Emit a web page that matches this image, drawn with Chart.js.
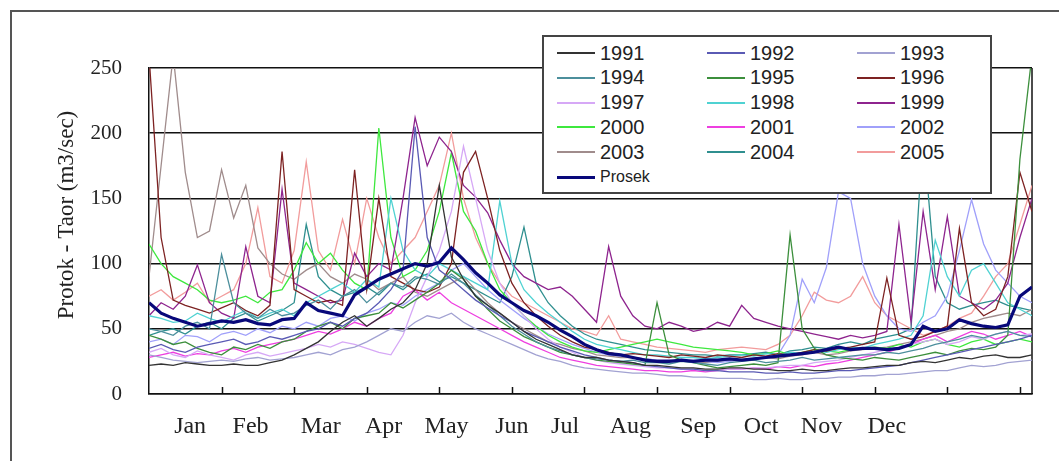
<!DOCTYPE html>
<html><head><meta charset="utf-8">
<script src="https://cdn.jsdelivr.net/npm/chart.js@4.4.1/dist/chart.umd.min.js"></script>
<style>
html,body{margin:0;padding:0;background:#fff;overflow:hidden;}
#wrap{position:relative;width:1059px;height:461px;overflow:hidden;}
#frame{position:absolute;left:10px;top:10px;width:1100px;height:520px;border:2px solid #555;box-sizing:border-box;}
#c{position:absolute;left:0;top:0;}
#legend{position:absolute;left:542px;top:35px;width:450px;height:159px;box-sizing:border-box;border:2px solid #444;background:#fff;}
.item{position:absolute;height:24px;display:flex;align-items:center;font-family:"Liberation Sans",Arial,sans-serif;font-size:20px;color:#222;white-space:nowrap;}
.sw{width:38px;margin-right:5px;}
</style>
</head><body>
<div id="wrap">
<div id="frame"></div>
<canvas id="c" width="1059" height="461"></canvas>
<div id="legend"></div>
</div>
<script>
// day of year (x values)
const days = [0,5,10,15,20,25,30,35,40,45,50,55,60,65,70,75,80,85,90,95,100,105,110,115,120,125,130,135,140,145,150,155,160,165,170,175,180,185,190,195,200,205,210,215,220,225,230,235,240,245,250,255,260,265,270,275,280,285,290,295,300,305,310,315,320,325,330,335,340,345,350,355,360,365];
const months = ["Jan","Feb","Mar","Apr","May","Jun","Jul","Aug","Sep","Oct","Nov","Dec"];
const monthPos = [17,42,71,97,123,150,172,199,227,253,278,305];
const tickDays = [30,60,90,120,150,180,210,240,270,300,330,360];
const yTicks = [0,50,100,150,200,250];

const y1991 = [22,23,22,24,23,22,22,23,22,22,24,26,30,
 35,40,48,55,60,52,58,65,70,80,100,160,
 105,88,75,68,62,55,48,42,38,34,30,28,
 28,26,25,24,22,22,21,20,20,19,19,20,
 20,19,19,18,18,19,18,18,19,20,20,21,
 22,22,24,25,24,26,28,27,29,30,28,28,30];
const y1992 = [35,38,34,32,36,38,40,42,38,40,44,42,45,
 48,50,55,52,58,62,70,80,95,205,120,95,
 88,80,72,66,60,55,48,44,40,36,33,30,
 28,26,25,24,22,21,20,19,19,18,18,17,
 17,17,16,16,17,16,16,17,18,18,19,20,
 21,22,24,26,28,30,32,34,36,38,40,42,45];
const y1993 = [30,28,26,25,24,25,26,25,27,28,26,27,28,
 30,32,30,34,36,40,45,50,48,55,60,58,
 62,55,50,46,42,38,34,30,27,25,22,20,
 19,18,17,16,16,15,14,14,13,13,12,12,
 12,11,11,12,11,11,12,12,13,13,14,14,
 15,15,16,17,18,18,20,22,21,22,24,25,26];
const y1994 = [50,48,45,52,55,50,107,70,62,58,65,60,62,
 68,72,65,75,80,70,78,85,82,90,88,84,
 92,85,76,68,60,52,46,40,36,33,30,28,
 27,26,25,26,24,24,23,25,24,23,22,24,
 25,26,24,25,26,28,26,27,28,29,30,30,
 32,31,33,35,38,40,42,45,43,46,48,45,44];
const y1995 = [45,42,38,40,35,32,30,36,34,38,35,40,42,
 48,52,55,50,58,60,62,70,66,72,78,85,
 95,88,75,65,56,50,44,40,36,32,30,28,
 26,25,24,23,22,70,30,26,24,22,20,21,
 22,23,22,24,122,50,35,30,28,27,26,28,
 27,26,28,30,32,30,33,35,34,36,45,180,260];
const y1996 = [260,120,72,68,65,62,66,70,64,60,68,186,80,
 75,70,72,68,172,80,150,90,85,80,78,82,
 100,170,186,150,110,85,70,60,52,45,40,36,
 34,32,30,31,30,29,28,30,29,28,30,29,
 28,30,29,31,30,32,34,33,35,36,38,40,
 89,45,42,44,48,52,127,70,60,65,90,170,140];
const y1997 = [32,35,30,28,33,30,28,26,30,32,29,31,33,
 35,38,36,40,38,35,32,30,45,70,90,110,
 140,190,150,110,85,70,60,50,42,36,32,28,
 26,24,23,22,21,20,20,19,19,18,18,19,
 19,20,20,21,22,22,24,25,26,28,30,32,
 34,36,38,40,42,38,40,44,42,46,48,45,46];
const y1998 = [60,58,55,56,62,58,55,60,64,58,62,65,60,
 70,75,80,85,78,88,82,150,110,95,90,100,
 95,90,85,80,148,100,80,70,62,55,48,42,
 38,36,34,32,30,30,29,28,28,27,28,29,
 30,29,31,30,32,31,33,32,34,36,35,38,
 40,42,45,60,118,90,75,95,100,85,70,65,60];
const y1999 = [60,70,65,75,99,70,62,58,113,75,70,157,85,
 80,75,70,72,108,90,100,95,150,212,175,197,
 186,160,151,139,118,100,90,85,80,82,75,65,
 55,113,75,60,52,50,55,52,48,50,55,52,
 68,58,55,52,50,48,46,44,42,45,43,45,
 48,130,55,140,80,136,75,70,65,72,85,120,150];
const y2000 = [115,100,90,85,80,72,70,72,75,70,78,80,95,
 116,100,108,95,85,80,204,120,90,95,110,140,
 185,140,125,100,80,70,60,52,45,40,36,33,
 32,34,36,38,40,42,40,38,36,35,34,33,
 32,30,31,33,30,32,34,33,32,34,35,36,
 35,38,36,40,42,38,36,40,42,38,40,42,40];
const y2001 = [28,30,32,29,31,30,33,35,32,36,38,40,42,
 45,48,46,50,55,52,58,62,75,80,72,78,
 70,65,60,55,50,45,40,36,32,28,26,24,
 22,21,20,19,18,18,17,17,18,17,18,19,
 19,20,19,21,20,22,21,23,24,26,28,30,
 32,35,38,42,45,40,44,48,46,42,45,48,44];
const y2002 = [40,42,38,45,44,40,46,48,45,50,47,52,50,
 55,52,58,60,56,62,65,70,68,75,80,85,
 95,100,90,80,72,65,58,52,46,42,38,35,
 32,30,29,28,27,26,26,25,26,25,24,25,
 26,27,28,30,45,88,70,97,155,150,100,75,
 60,50,48,55,60,75,110,149,115,95,85,75,70];
const y2003 = [90,175,260,170,120,125,172,135,160,112,100,92,88,
 95,100,90,85,92,88,80,85,90,78,75,80,
 85,90,80,70,62,55,50,45,40,38,35,33,
 30,29,28,28,27,26,26,25,25,24,25,26,
 26,27,28,27,29,30,32,30,31,33,34,35,
 36,38,40,42,45,48,50,55,58,60,62,60,65];
const y2004 = [45,48,50,46,52,55,50,58,62,56,60,64,70,
 130,90,80,75,78,82,76,85,80,88,92,86,
 90,85,80,75,70,90,128,85,70,60,52,46,
 42,40,38,36,34,33,32,31,30,30,29,30,
 30,31,32,30,33,34,36,35,38,40,38,42,
 44,46,50,200,90,70,65,68,70,72,68,66,64];
const y2005 = [75,80,72,78,85,70,75,80,100,143,90,85,110,
 178,110,95,134,100,150,120,100,110,120,140,160,
 200,150,120,100,85,75,70,65,60,55,50,48,
 45,60,42,40,38,36,35,34,33,32,34,35,
 36,35,34,38,45,60,78,72,70,75,90,70,
 60,55,50,45,48,52,58,62,75,90,100,130,160];
const prosek = [70,62,58,55,52,54,56,55,57,54,53,57,58,
 70,64,62,60,76,82,88,92,96,100,98,101,
 112,103,93,85,76,70,64,60,55,49,44,38,
 34,31,30,28,26,25,25,26,25,26,26,27,
 26,27,28,29,30,31,32,34,36,34,35,35,
 34,35,38,52,48,50,57,54,52,51,53,75,82];

const seriesNames = ["1991","1992","1993","1994","1995","1996","1997","1998","1999","2000","2001","2002","2003","2004","2005","Prosek"];
const seriesValues = [y1991,y1992,y1993,y1994,y1995,y1996,y1997,y1998,y1999,y2000,y2001,y2002,y2003,y2004,y2005,prosek];
const seriesColors = ["#333333","#5a5ab4","#a2a2d2","#4c8f9c","#3c8f3c","#7d2222","#d6a8f6","#4fd2d2","#8e248e","#3ee83e","#ee3fe0","#a0a0fa","#a08c8c","#2f8f8f","#f29c9c","#08087a"];

const datasets = seriesNames.map((name, k) => {
  const isAvg = name === "Prosek";
  return {
    label: name,
    data: days.map((d, i) => ({x: d, y: seriesValues[k][i]})),
    borderColor: seriesColors[k],
    backgroundColor: seriesColors[k],
    borderWidth: isAvg ? 3.2 : 1.3,
    pointRadius: 0,
    tension: 0,
    fill: false,
    order: isAvg ? -1 : 0
  };
});

const serif = '"Liberation Serif","Times New Roman",serif';

const framePlugin = {
  id: 'framePlugin',
  beforeDatasetsDraw(chart) {
    const {ctx, chartArea: a} = chart;
    ctx.save();
    ctx.strokeStyle = '#111';
    ctx.lineWidth = 1.5;
    ctx.beginPath();
    ctx.moveTo(a.right, a.top);
    ctx.lineTo(a.right, a.bottom);
    ctx.stroke();
    const xs = chart.scales.x;
    ctx.beginPath();
    tickDays.forEach(d => {
      const px = Math.round(xs.getPixelForValue(d)) + 0.5;
      ctx.moveTo(px, a.bottom);
      ctx.lineTo(px, a.bottom - 7);
    });
    ctx.stroke();
    ctx.restore();
  },
  afterDraw(chart) {
    const ctx = chart.ctx;
    ctx.save();
    ctx.translate(67, 215);
    ctx.rotate(-Math.PI / 2);
    ctx.font = '23px ' + serif;
    ctx.fillStyle = '#222';
    ctx.textAlign = 'center';
    ctx.textBaseline = 'middle';
    ctx.fillText('Protok - Taor (m3/sec)', 0, 0);
    ctx.restore();
  }
};

const chart = new Chart(document.getElementById('c'), {
  type: 'line',
  data: {datasets},
  options: {
    responsive: false,
    animation: false,
    layout: {padding: {left: 0, right: 27, top: 68, bottom: 17}},
    plugins: {legend: {display: false}, tooltip: {enabled: false}},
    scales: {
      x: {
        type: 'linear', min: 0, max: 365, position: 'bottom', weight: 0,
        ticks: {display: false, stepSize: 30},
        grid: {display: false, drawTicks: false},
        border: {display: true, color: '#111', width: 1.5},
        afterFit: s => { s.height = 0; }
      },
      xm: {
        type: 'linear', min: 0, max: 365, position: 'bottom', weight: 1,
        afterBuildTicks: s => { s.ticks = monthPos.map(v => ({value: v})); },
        ticks: {autoSkip: false, maxRotation: 0, minRotation: 0, padding: 18,
          font: {family: serif, size: 24}, color: '#222',
          callback: (v, i) => months[i]},
        grid: {display: false, drawTicks: false},
        border: {display: false},
        afterFit: s => { s.height = 50; }
      },
      y: {
        type: 'linear', min: 0, max: 250,
        afterBuildTicks: s => { s.ticks = yTicks.map(v => ({value: v})); },
        ticks: {padding: 27, font: {family: serif, size: 21}, color: '#222'},
        grid: {color: '#111', lineWidth: 1.5, drawTicks: false},
        border: {display: true, color: '#111', width: 1.5},
        afterFit: s => { s.width = 149; }
      }
    }
  },
  plugins: [framePlugin]
});

// legend (3 columns, row-major)
const lg = document.getElementById('legend');
datasets.forEach((ds, k) => {
  const col = k % 3, row = Math.floor(k / 3);
  const it = document.createElement('div');
  it.className = 'item';
  it.style.left = (13 + col * 150) + 'px';
  it.style.top = (4 + row * 24.8) + 'px';
  const sw = document.createElement('div');
  sw.className = 'sw';
  sw.style.borderTop = (ds.label === 'Prosek' ? 3.5 : 2) + 'px solid ' + ds.borderColor;
  const tx = document.createElement('span');
  tx.textContent = ds.label;
  if (ds.label === 'Prosek') tx.style.fontSize = '16px';
  it.appendChild(sw); it.appendChild(tx);
  lg.appendChild(it);
});
</script>
</body></html>
